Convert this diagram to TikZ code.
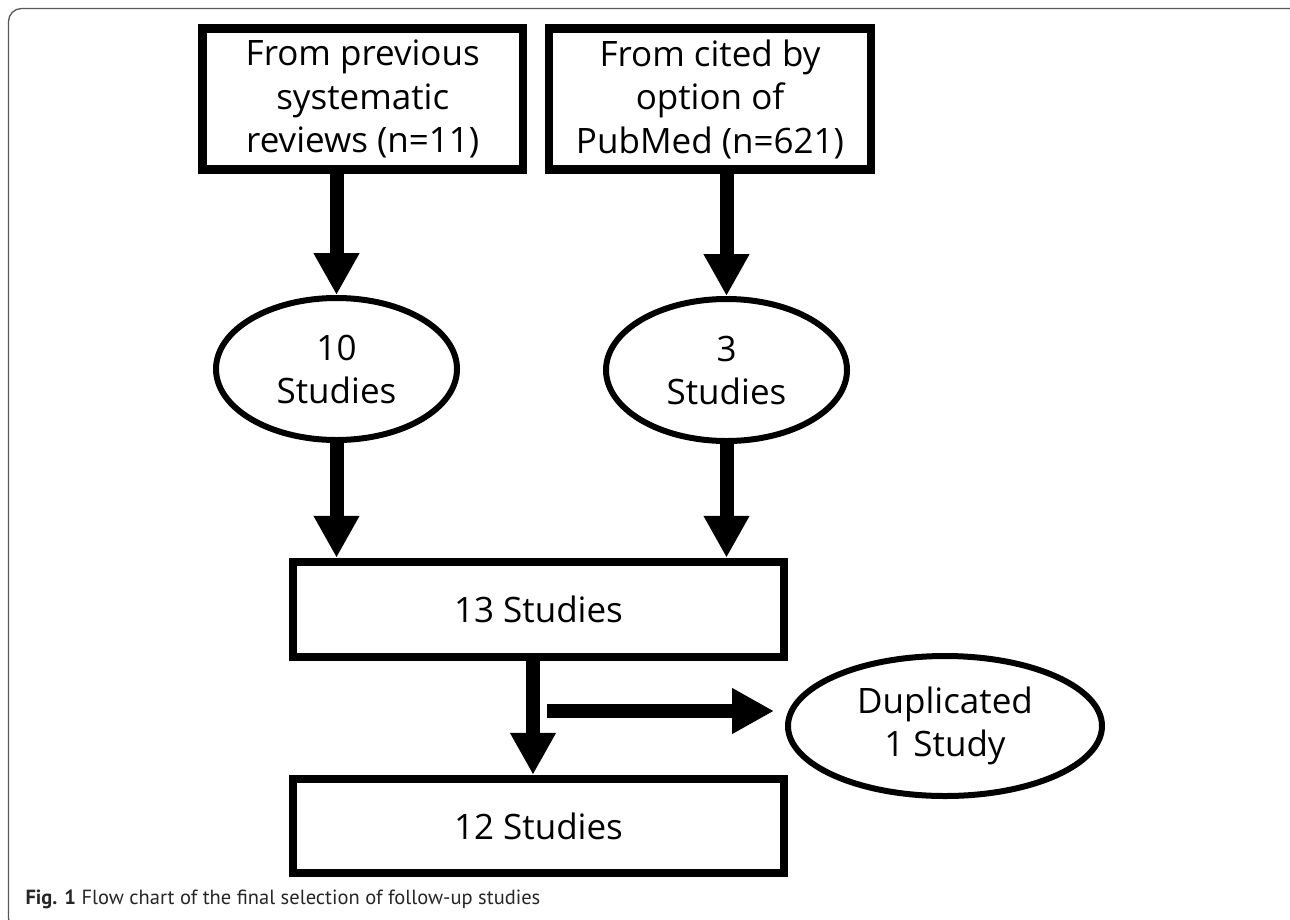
\documentclass[tikz,border=0pt]{standalone}
\usepackage{fontspec}
\setmainfont{Open Sans}
\newfontfamily\capfont{PT Sans}
\usepackage{tikz}
\usepackage{color}
\usetikzlibrary{calc}
\usetikzlibrary{arrows.meta}
\usetikzlibrary{shapes.geometric,positioning}

\begin{document}
\begin{tikzpicture}[x=1pt,y=-1pt,
  srcbox/.style={draw=black, line width=8.5pt, inner sep=0pt, align=center,
    font=\fontsize{35}{43.5}\selectfont},
  oval/.style={ellipse, draw=black, line width=6pt, inner sep=0pt, align=center,
    minimum width=241pt, minimum height=142pt, font=\fontsize{35}{43}\selectfont},
  flow/.style={draw=black, line width=14pt, line cap=butt,
    -{Triangle[width=43pt,length=42pt]}}]
  \useasboundingbox (0,0) rectangle (1290,919);
  \clip (0,0) rectangle (1290,919);

  %% outer frame
  \draw[black!65, line width=1.3pt, rounded corners=13pt] (8.5,8.5) rectangle (1302,931);

  %% sources
  \node[srcbox, minimum width=320.5pt, minimum height=141pt] (prev) at (362.75,99)
    {From previous\\systematic\\reviews (n=11)};
  \node[srcbox, minimum width=322pt, minimum height=141pt] (cited) at (710,99)
    {From cited by\\option of\\PubMed (n=621)};

  %% found studies
  \node[oval] (ten) at (336.5,369) {10\\Studies};
  \node[oval] (three) at (726.5,370) {3\\Studies};

  %% pooled and final
  \node[srcbox, minimum width=491pt, minimum height=95pt] (thirteen) at (538.5,609.5) {13 Studies};
  \node[srcbox, minimum width=491pt, minimum height=94pt] (twelve) at (538.5,826) {12 Studies};
  \node[oval, minimum width=314pt, minimum height=140pt] (dup) at (945,726) {Duplicated\\1 Study};

  %% arrows
  \draw[flow] (ten.north |- prev.south) -- (ten.north);
  \draw[flow] (three.north |- cited.south) -- (three.north);
  \draw[flow] (ten.south) -- (ten.south |- thirteen.north);
  \draw[flow] (three.south) -- (three.south |- thirteen.north);
  \draw[flow] ([xshift=-5.5pt]thirteen.south) -- ([xshift=-5.5pt]twelve.north);
  \coordinate (branch) at (547,711);
  \draw[flow] (branch) -- ([shift={(-11,-15)}]dup.west);

  %% caption
  \node[anchor=base west, text=black!85, font=\capfont\fontsize{20.5}{24}\selectfont]
    (caption) at (22,904) {\textbf{Fig. 1} Flow chart of the final selection of follow-up studies};
\end{tikzpicture}
\end{document}
